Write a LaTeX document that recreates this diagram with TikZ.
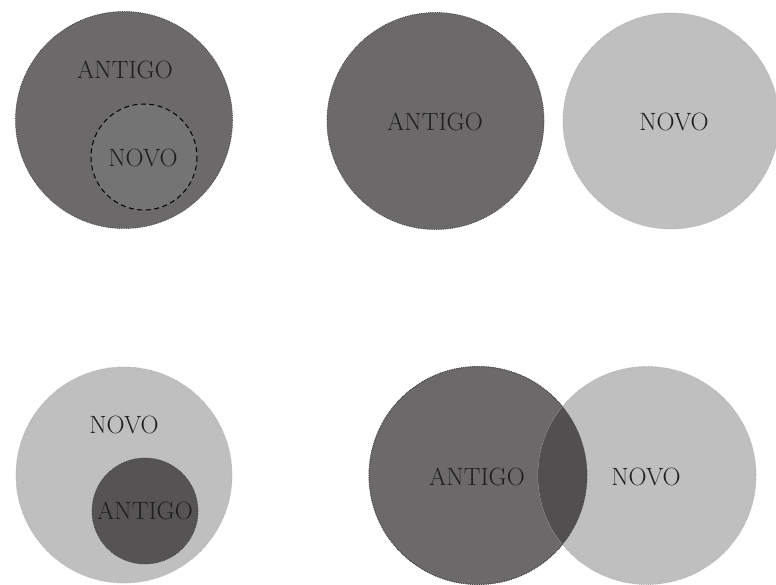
\documentclass[tikz,border=0pt]{standalone}
\usepackage{fontspec}
\usepackage{xcolor}
\usetikzlibrary{calc}
\definecolor{antigo}{RGB}{108,105,106}
\definecolor{novo}{RGB}{191,191,191}
\definecolor{novoin}{RGB}{117,116,116}
\definecolor{antigoin}{RGB}{86,83,84}
\definecolor{inter}{RGB}{82,79,80}
\definecolor{rim}{RGB}{70,68,69}
\definecolor{rimlight}{RGB}{176,176,176}
\definecolor{txt}{RGB}{30,30,30}
\newcommand{\lblsize}{\fontsize{25}{30}\selectfont\addfontfeature{LetterSpace=8}}

\begin{document}
\begin{tikzpicture}[x=1pt,y=-1pt,
    lbl/.style={text=txt,inner sep=0pt,font=\lblsize},
    darkdisc/.style={fill=antigo,draw=rim,densely dotted,line width=0.8pt},
    lightdisc/.style={fill=novo,draw=rimlight,densely dotted,line width=0.8pt}]
    \useasboundingbox (0,0) rectangle (776,585);
    % antigo contém novo
    \filldraw[darkdisc] (124,120) circle (108.5);
    \draw[fill=novoin,dash pattern=on 5pt off 3.5pt,line width=1pt] (144,157) circle (53);
    \node[lbl] (antigoA) at (125,70) {ANTIGO};
    \node[lbl] (novoA) at (143,158) {NOVO};
    % disjuntos
    \filldraw[darkdisc] (435.5,121) circle (108.5);
    \filldraw[lightdisc] (671,121) circle (108);
    \node[lbl] (antigoB) at (435,122) {ANTIGO};
    \node[lbl] (novoB) at (674,122) {NOVO};
    % novo contém antigo
    \filldraw[lightdisc] (124,475) circle (108);
    \filldraw[fill=antigoin,draw=rim,densely dotted,line width=0.8pt] (145,511) circle (53);
    \node[lbl] (novoC) at (124,425) {NOVO};
    \node[lbl] (antigoC) at (145,511) {ANTIGO};
    % interseção
    \filldraw[darkdisc] (478,475.5) circle (109);
    \filldraw[lightdisc] (647,475.5) circle (109);
    \begin{scope}
      \clip (478,475.5) circle (109);
      \fill[inter] (647,475.5) circle (109);
    \end{scope}
    \draw[rim,densely dotted,line width=0.8pt] (478,475.5) circle (109);
    \node[lbl] (antigoD) at (477,477) {ANTIGO};
    \node[lbl] (novoD) at (646,477) {NOVO};
\end{tikzpicture}
\end{document}
